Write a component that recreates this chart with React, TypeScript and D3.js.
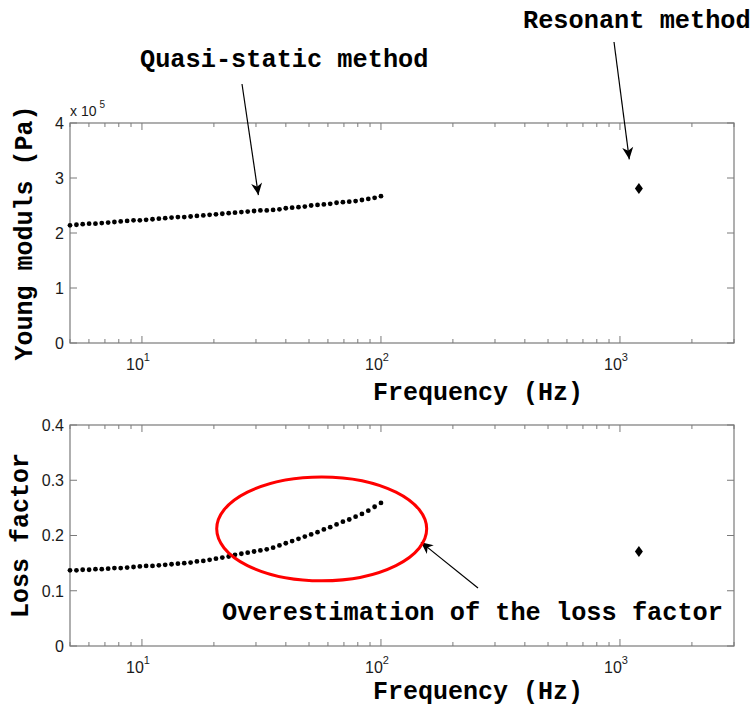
import { useRef, useEffect } from 'react';
import * as d3 from 'd3';

// quasi-static measurement frequencies (Hz)
const freqs = [
  5.0, 5.32, 5.65, 6.01, 6.39, 6.79, 7.22, 7.67, 8.15, 8.67,
  9.22, 9.8, 10.41, 11.07, 11.77, 12.51, 13.3, 14.14, 15.03, 15.98,
  16.98, 18.06, 19.19, 20.4, 21.69, 23.06, 24.51, 26.06, 27.7, 29.45,
  31.3, 33.28, 35.38, 37.61, 39.98, 42.5, 45.18, 48.03, 51.05, 54.27,
  57.69, 61.33, 65.2, 69.31, 73.68, 78.33, 83.26, 88.51, 94.09, 100.0,
];

// Young modulus, x 10^5 Pa
const youngModulus = [
  2.14, 2.15, 2.16, 2.17, 2.17, 2.18, 2.19, 2.2, 2.21, 2.22,
  2.23, 2.23, 2.24, 2.25, 2.26, 2.27, 2.28, 2.29, 2.29, 2.3,
  2.31, 2.32, 2.33, 2.34, 2.35, 2.36, 2.37, 2.38, 2.39, 2.4,
  2.41, 2.41, 2.42, 2.43, 2.45, 2.46, 2.47, 2.48, 2.5, 2.51,
  2.52, 2.53, 2.55, 2.56, 2.57, 2.58, 2.6, 2.62, 2.64, 2.67,
];

const lossFactor = [
  0.137, 0.137, 0.138, 0.138, 0.139, 0.139, 0.14, 0.141, 0.141, 0.142,
  0.143, 0.144, 0.145, 0.145, 0.146, 0.147, 0.148, 0.149, 0.15, 0.151,
  0.153, 0.154, 0.156, 0.158, 0.16, 0.162, 0.165, 0.167, 0.169, 0.171,
  0.173, 0.175, 0.178, 0.182, 0.186, 0.19, 0.194, 0.198, 0.202, 0.206,
  0.211, 0.215, 0.22, 0.225, 0.229, 0.234, 0.239, 0.245, 0.252, 0.259,
];

const resonantFreq = 1200;
const resonantYoung = 2.81;
const resonantLoss = 0.171;

const youngTicks = [0, 1, 2, 3, 4];
const lossTicks = [0, 0.1, 0.2, 0.3, 0.4];
const lossTickLabels = ['0', '0.1', '0.2', '0.3', '0.4'];
const decadeTicks = [10, 100, 1000];
const decadeExps = ['1', '2', '3'];

const MONO = '"Liberation Mono", "Courier New", monospace';
const SANS = '"Liberation Sans", Arial, sans-serif';
const AXIS = '#7a7a7a';

export default function App() {
  const svgRef = useRef<SVGSVGElement>(null);

  useEffect(() => {
    if (!svgRef.current) return;
    const width = 751;
    const height = 708;
    const svg = d3.select(svgRef.current).attr('width', width).attr('height', height);
    svg.selectAll('*').remove();

    const x = d3.scaleLog().domain([5, 3000]).range([70, 734]);
    const minorTicks: number[] = [];
    [1, 10, 100, 1000].forEach(dec => {
      for (let m = 2; m <= 9; m++) {
        const v = m * dec;
        if (v >= 5 && v <= 3000) minorTicks.push(v);
      }
    });

    const drawPanel = (
      top: number,
      bottom: number,
      yMax: number,
      ticks: number[],
      labels: string[],
      values: number[],
      resonant: number,
      yTitle: string,
      titleX: number,
      xTitleY: number,
    ) => {
      const y = d3.scaleLinear().domain([0, yMax]).range([bottom, top]);
      const g = svg.append('g');
      const [x0, x1] = x.range();

      // ticks (inside, MATLAB style)
      ticks.forEach((t, i) => {
        g.append('line').attr('x1', x0).attr('x2', x0 + 7).attr('y1', y(t)).attr('y2', y(t))
          .attr('stroke', AXIS);
        g.append('line').attr('x1', x1).attr('x2', x1 - 7).attr('y1', y(t)).attr('y2', y(t))
          .attr('stroke', AXIS);
        g.append('text').attr('x', x0 - 6).attr('y', y(t)).attr('dy', '0.36em')
          .attr('text-anchor', 'end').attr('font-family', SANS).attr('font-size', 16)
          .attr('fill', '#1a1a1a').text(labels[i]);
      });
      minorTicks.forEach(t => {
        g.append('line').attr('x1', x(t)).attr('x2', x(t)).attr('y1', bottom).attr('y2', bottom - 4)
          .attr('stroke', AXIS);
        g.append('line').attr('x1', x(t)).attr('x2', x(t)).attr('y1', top).attr('y2', top + 4)
          .attr('stroke', AXIS);
      });
      decadeTicks.forEach((t, i) => {
        g.append('line').attr('x1', x(t)).attr('x2', x(t)).attr('y1', bottom).attr('y2', bottom - 7)
          .attr('stroke', AXIS);
        g.append('line').attr('x1', x(t)).attr('x2', x(t)).attr('y1', top).attr('y2', top + 7)
          .attr('stroke', AXIS);
        const lab = g.append('text').attr('x', x(t) - 4).attr('y', bottom + 27)
          .attr('text-anchor', 'middle').attr('font-family', SANS).attr('font-size', 16)
          .attr('fill', '#1a1a1a');
        lab.append('tspan').text('10');
        lab.append('tspan').attr('dy', -9).attr('font-size', 11).text(decadeExps[i]);
      });

      g.append('rect').attr('x', x0).attr('y', top).attr('width', x1 - x0).attr('height', bottom - top)
        .attr('fill', 'none').attr('stroke', AXIS).attr('stroke-width', 1.2);

      g.selectAll('circle.dot').data(values).enter().append('circle')
        .attr('class', 'dot')
        .attr('cx', (_, i) => x(freqs[i]))
        .attr('cy', d => y(d))
        .attr('r', 2.4)
        .attr('fill', '#000');

      const dx = x(resonantFreq);
      const dy = y(resonant);
      g.append('path')
        .attr('d', `M${dx},${dy - 5.5}L${dx + 4},${dy}L${dx},${dy + 5.5}L${dx - 4},${dy}Z`)
        .attr('fill', '#000');

      g.append('text').attr('x', 478).attr('y', xTitleY)
        .attr('text-anchor', 'middle').attr('font-family', MONO).attr('font-weight', 'bold')
        .attr('font-size', 25).attr('fill', '#000').text('Frequency (Hz)');

      g.append('text')
        .attr('transform', `translate(${titleX},${(top + bottom) / 2}) rotate(-90)`)
        .attr('text-anchor', 'middle').attr('font-family', MONO).attr('font-weight', 'bold')
        .attr('font-size', 25).attr('fill', '#000').text(yTitle);

      return y;
    };

    const yTop = drawPanel(123, 343, 4, youngTicks, youngTicks.map(String), youngModulus,
      resonantYoung, 'Young moduls (Pa)', 32, 400);
    const yBot = drawPanel(425, 646, 0.4, lossTicks, lossTickLabels, lossFactor,
      resonantLoss, 'Loss factor', 28, 699);

    // exponent label
    const ex = svg.append('text').attr('x', 70).attr('y', 116).attr('font-family', SANS)
      .attr('font-size', 14).attr('fill', '#1a1a1a');
    ex.append('tspan').text('x 10');
    ex.append('tspan').attr('dx', 3).attr('dy', -8).attr('font-size', 10).text('5');

    // annotation arrows
    const arrow = (sx: number, sy: number, tx: number, ty: number) => {
      svg.append('line').attr('x1', sx).attr('y1', sy).attr('x2', tx).attr('y2', ty)
        .attr('stroke', '#000').attr('stroke-width', 1.2);
      const ang = (Math.atan2(ty - sy, tx - sx) * 180) / Math.PI;
      svg.append('path')
        .attr('d', 'M0,0L-12,-5.5L-8.5,0L-12,5.5Z')
        .attr('transform', `translate(${tx},${ty}) rotate(${ang})`)
        .attr('fill', '#000');
    };

    arrow(242, 84, x(30.7), yTop(2.69));
    arrow(614, 42, x(1094), yTop(3.34));
    arrow(478, 588, x(147), yBot(0.188));

    const note = (tx: number, ty: number, s: string) =>
      svg.append('text').attr('x', tx).attr('y', ty).attr('font-family', MONO)
        .attr('font-weight', 'bold').attr('font-size', 25.3).attr('fill', '#000').text(s);
    note(140, 67, 'Quasi-static method');
    note(523, 28, 'Resonant method');
    note(222, 620, 'Overestimation of the loss factor');

    // ellipse marking the overestimated region
    const ecx = x(56.5);
    const ecy = yBot(0.212);
    svg.append('ellipse')
      .attr('cx', ecx).attr('cy', ecy)
      .attr('rx', (x(155) - x(20.5)) / 2)
      .attr('ry', (yBot(0.118) - yBot(0.306)) / 2)
      .attr('fill', 'none').attr('stroke', '#ff0000').attr('stroke-width', 3);
  }, []);

  return (
    <div style={{ position: 'absolute', left: 0, top: 0, background: '#fff' }}>
      <svg ref={svgRef} style={{ display: 'block' }}></svg>
    </div>
  );
}
